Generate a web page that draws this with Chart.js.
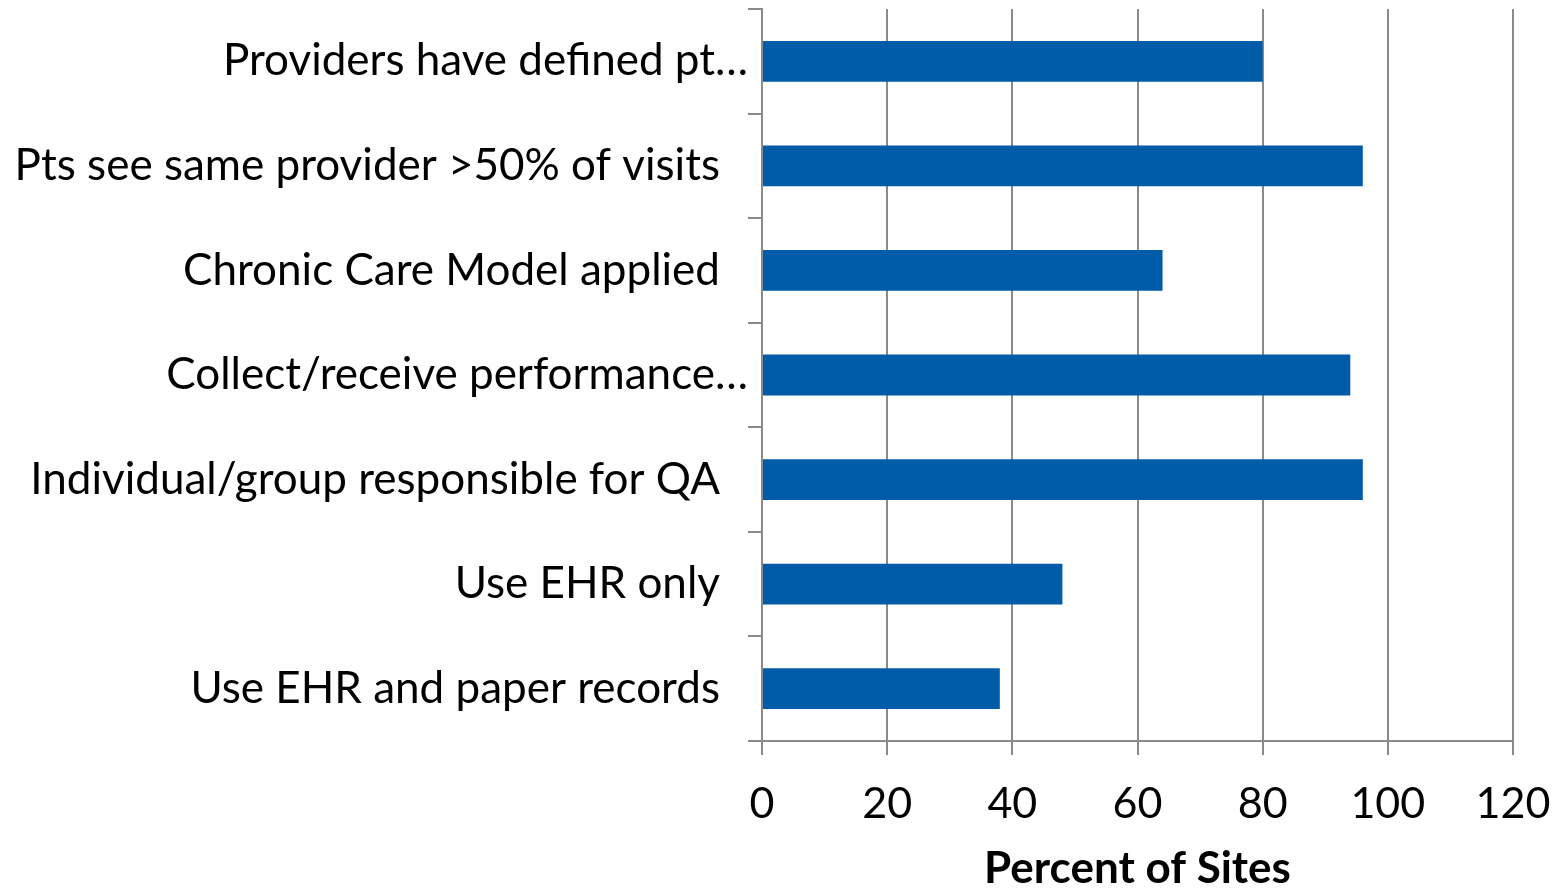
<!DOCTYPE html>
<html>
<head>
<meta charset="utf-8">
<script src="https://cdn.jsdelivr.net/npm/chart.js@4"></script>
<style>
html,body{margin:0;padding:0;background:#fff;}
#wrap{width:1565px;height:888px;position:relative;}
</style>
</head>
<body>
<div id="wrap"><canvas id="sitesChart" width="1565" height="888"></canvas></div>
<script>
/* ── DATA ── */
var categories=['Providers have defined pt\u2026','Pts see same provider >50% of visits','Chronic Care Model applied','Collect/receive performance\u2026','Individual/group responsible for QA','Use EHR only','Use EHR and paper records'];
var percentSites=[80,96,64,94,96,48,38];
var xTicks=[0,20,40,60,80,100,120];
var xTitle='Percent of Sites';

var FONT='Lato';
var GRID='#8a8a8a';

/* ── BAR CHART ── */
new Chart(document.getElementById('sitesChart').getContext('2d'),{
  type:'bar',
  data:{labels:categories,datasets:[{data:percentSites,backgroundColor:'#005ba8',borderWidth:0,barPercentage:.39,categoryPercentage:1}]},
  options:{
    indexAxis:'y',responsive:false,animation:false,
    layout:{padding:{top:9,right:52,left:0,bottom:0}},
    plugins:{legend:{display:false},tooltip:{enabled:false}},
    scales:{
      x:{min:0,max:120,
        afterBuildTicks:function(s){s.ticks=xTicks.map(function(v){return{value:v};});},
        afterFit:function(s){s.height=147;s.paddingLeft=0;s.paddingRight=0;},
        ticks:{font:{family:FONT,size:43},color:'#000',padding:23,maxRotation:0},
        grid:{color:GRID,lineWidth:2,tickLength:14,drawTicks:true},
        border:{color:GRID,width:2},
        title:{display:true,text:xTitle,font:{family:FONT,size:44,weight:'bold',lineHeight:0.85},color:'#000',padding:{top:4,bottom:0}}
      },
      y:{
        afterFit:function(s){s.width=762;s.paddingTop=0;s.paddingBottom=0;},
        ticks:{font:{family:FONT,size:44},color:'#000',padding:0,
          callback:function(v,i){var l=categories[i];return l.slice(-1)==='\u2026'?l:l+'  \u2009';}},
        grid:{drawOnChartArea:false,color:GRID,lineWidth:2,tickLength:14,offset:true},
        border:{color:GRID,width:2}
      }
    }
  }
});
</script>
</body>
</html>
